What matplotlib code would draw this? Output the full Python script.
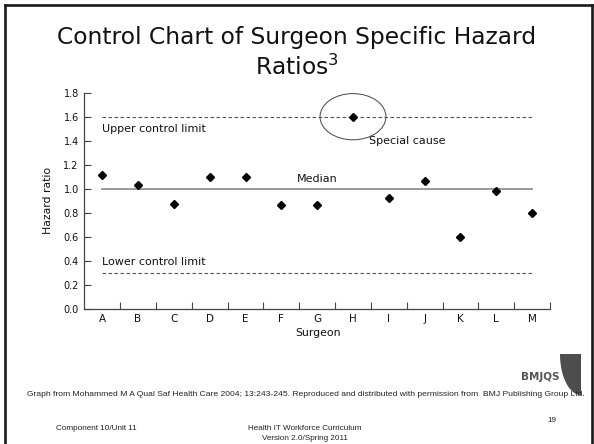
import numpy as np
import matplotlib
matplotlib.use("Agg")
import matplotlib.pyplot as plt
from matplotlib.patches import Ellipse, Polygon
from matplotlib.lines import Line2D

# ---- data ----
surgeons = ["A", "B", "C", "D", "E", "F", "G", "H", "I", "J", "K", "L", "M"]
hazard_ratio = [1.11, 1.03, 0.87, 1.10, 1.10, 0.86, 0.86, 1.60, 0.92, 1.06, 0.60, 0.98, 0.80]
median_value = 1.0
upper_limit = 1.6
lower_limit = 0.3
y_ticks = [0.0, 0.2, 0.4, 0.6, 0.8, 1.0, 1.2, 1.4, 1.6, 1.8]

W, H = 594, 444
fig = plt.figure(figsize=(W / 100, H / 100), dpi=100)
fig.patch.set_facecolor("white")

def fx(px):
    return px / W

def fy(py):
    return 1 - py / H

# slide border
for xs, ys in [((fx(4.8), fx(4.8)), (fy(4.8), 0)),
               ((fx(4.8), fx(592)), (fy(4.8), fy(4.8))),
               ((fx(592), fx(592)), (fy(4.8), 0))]:
    fig.add_artist(Line2D(xs, ys, color="#1a1a1a", lw=1.9, transform=fig.transFigure))

# title
fig.text(0.5, fy(37.5), "Control Chart of Surgeon Specific Hazard", ha="center", va="center",
         fontsize=16.8, color="#111111", family="DejaVu Sans")
fig.text(0.5, fy(67.5), r"Ratios$^{3}$", ha="center", va="center",
         fontsize=16.8, color="#111111", family="DejaVu Sans")

# axes
ax_left, ax_right = 84.3, 550.0
ax_top, ax_bottom = 92.7, 308.7
ax = fig.add_axes([fx(ax_left), fy(ax_bottom), (ax_right - ax_left) / W, (ax_bottom - ax_top) / H])
x = np.arange(len(surgeons))
ax.set_xlim(-0.5, len(surgeons) - 0.5)
ax.set_ylim(0, 1.8)

ax.plot([x[0], x[-1]], [upper_limit, upper_limit], color="#555555", lw=0.8, ls=(0, (3.2, 2.2)))
ax.plot([x[0], x[-1]], [lower_limit, lower_limit], color="#555555", lw=0.8, ls=(0, (3.2, 2.2)))
ax.plot([x[0], x[-1]], [median_value, median_value], color="#9a9a9a", lw=1.4)
ax.plot(x, hazard_ratio, ls="none", marker="D", ms=4.4, color="black", zorder=5)

ax.add_patch(Ellipse((7, 1.6), 1.84, 0.385, fill=False, ec="#444444", lw=0.7))

ax.text(0, 1.50, "Upper control limit", ha="left", va="center", fontsize=8, color="#111111")
ax.text(0, 0.39, "Lower control limit", ha="left", va="center", fontsize=8, color="#111111")
ax.text(6, 1.08, "Median", ha="center", va="center", fontsize=8, color="#111111")
ax.text(7.44, 1.40, "Special cause", ha="left", va="center", fontsize=8, color="#111111")

for s in ["top", "right"]:
    ax.spines[s].set_visible(False)
for s in ["left", "bottom"]:
    ax.spines[s].set_color("#444444")
    ax.spines[s].set_linewidth(0.9)

ax.set_yticks(y_ticks)
ax.set_yticklabels([f"{v:.1f}" for v in y_ticks])
ax.tick_params(axis="y", direction="in", length=5, width=0.8, color="#444444",
               labelsize=7, pad=4, labelcolor="#111111")
ax.set_xticks(x)
ax.set_xticklabels(surgeons)
ax.tick_params(axis="x", which="major", length=0, labelsize=7.5, pad=4, labelcolor="#111111")
ax.set_xticks(np.arange(0.5, len(surgeons) - 0.4, 1.0), minor=True)
ax.tick_params(axis="x", which="minor", direction="in", length=5, width=0.8, color="#444444")
ax.set_xlabel("Surgeon", fontsize=7.8, color="#111111")
ax.xaxis.set_label_coords((317.5 - ax_left) / (ax_right - ax_left), -(329 - ax_bottom) / (ax_bottom - ax_top))
ax.xaxis.label.set_va("center")
ax.xaxis.label.set_position(((317.5 - ax_left) / (ax_right - ax_left), 0))
ax.xaxis.set_label_coords((317.5 - ax_left) / (ax_right - ax_left), -(333.5 - ax_bottom) / (ax_bottom - ax_top))
ax.set_ylabel("Hazard ratio", fontsize=7.8, color="#111111")
ax.yaxis.set_label_coords(-(84.3 - 53.3) / (ax_right - ax_left), 0.5)

# BMJQS logo
theta = np.linspace(np.pi, 1.5 * np.pi, 40)
cxp, cyp, rx, ry = 581, 354, 21, 41
pts = [(fx(cxp + rx * np.cos(t)), fy(cyp - ry * np.sin(t))) for t in theta]
pts = [(fx(581), fy(354))] + pts
fig.add_artist(Polygon(pts, closed=True, fc="#4d4d4d", ec="none", transform=fig.transFigure))
fig.text(fx(560), fy(376.5), "BMJQS", ha="right", va="center", fontsize=7.5,
         fontweight="bold", color="#555555", family="DejaVu Sans")

# footer
fig.text(fx(306), fy(394), "Graph from Mohammed M A Qual Saf Health Care 2004; 13:243-245. Reproduced and distributed with permission from  BMJ Publishing Group Ltd.",
         ha="center", va="center", fontsize=6.1, color="#222222", family="Liberation Sans")
fig.text(fx(55.5), fy(428.5), "Component 10/Unit 11", ha="left", va="center", fontsize=5.9,
         color="#222222", family="Liberation Sans")
fig.text(fx(304.5), fy(428.5), "Health IT Workforce Curriculum", ha="center", va="center",
         fontsize=5.9, color="#222222", family="Liberation Sans")
fig.text(fx(304.5), fy(438.5), "Version 2.0/Spring 2011", ha="center", va="center",
         fontsize=5.9, color="#222222", family="Liberation Sans")
fig.text(fx(552), fy(420), "19", ha="center", va="center", fontsize=5.9,
         color="#222222", family="Liberation Sans")

fig.savefig("out.png", dpi=100, facecolor="white")
